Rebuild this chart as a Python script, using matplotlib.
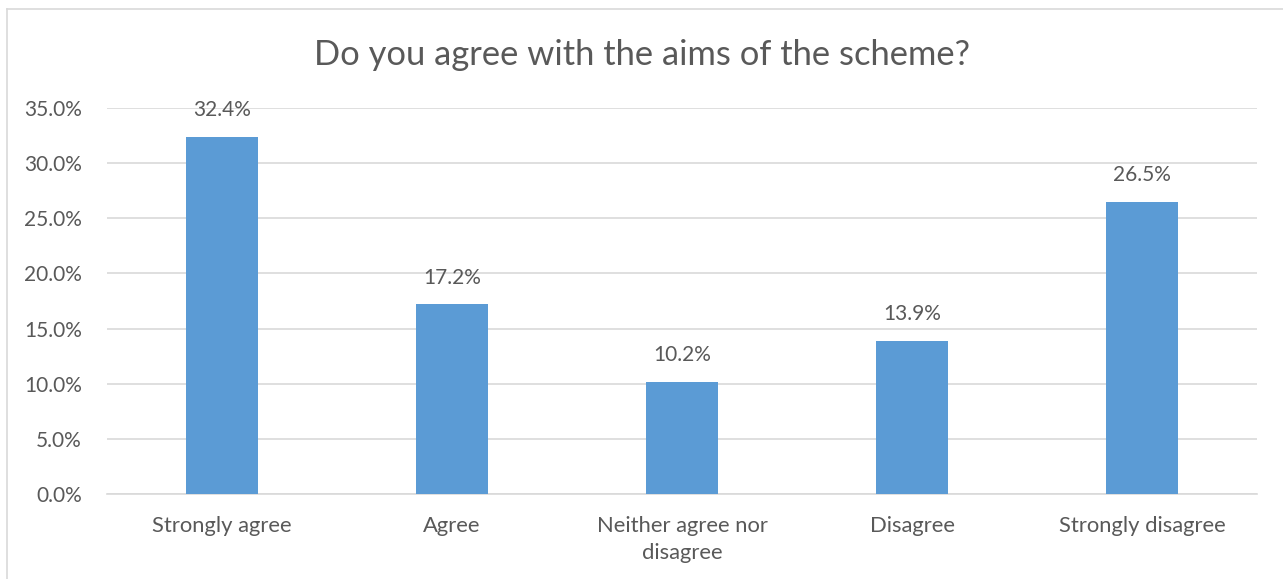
import matplotlib
matplotlib.use('Agg')
import matplotlib.pyplot as plt
from matplotlib.ticker import PercentFormatter, MultipleLocator

categories = ['Strongly agree', 'Agree', 'Neither agree nor\ndisagree', 'Disagree', 'Strongly disagree']
shares = [0.324, 0.172, 0.102, 0.139, 0.265]
bar_labels = ['32.4%', '17.2%', '10.2%', '13.9%', '26.5%']

plt.rcParams['font.family'] = ['Lato', 'DejaVu Sans']
text_color = '#595959'
grid_color = '#D9D9D9'


def main():
    fig = plt.figure(figsize=(12.83, 5.79), dpi=100)
    ax = fig.add_axes([107 / 1283, 1 - 494 / 579, 1150 / 1283, 386 / 579])

    x = range(len(categories))
    bars = ax.bar(x, shares, width=0.31, color='#5B9BD5', zorder=3)
    for bar, label in zip(bars, bar_labels):
        ax.annotate(label, (bar.get_x() + bar.get_width() / 2, bar.get_height()),
                    xytext=(0, 12), textcoords='offset points', ha='center', va='bottom',
                    fontsize=15, color=text_color)

    ax.set_xlim(-0.5, len(categories) - 0.5)
    ax.set_ylim(0, 0.35)
    ax.yaxis.set_major_locator(MultipleLocator(0.05))
    ax.yaxis.set_major_formatter(PercentFormatter(1, 1))
    ax.set_xticks(list(x))
    ax.set_xticklabels(categories, linespacing=1.4)
    ax.tick_params(axis='both', length=0, labelsize=15, labelcolor=text_color)
    ax.tick_params(axis='x', labelsize=15.8, pad=16)
    ax.tick_params(axis='y', pad=18)
    ax.grid(axis='y', color=grid_color, linewidth=1.2, zorder=0)
    for side in ('top', 'right', 'left'):
        ax.spines[side].set_visible(False)
    ax.spines['bottom'].set_color(grid_color)
    ax.spines['bottom'].set_linewidth(1.2)

    fig.text(0.5, 1 - 55 / 579, 'Do you agree with the aims of the scheme?', ha='center', va='center',
             fontsize=24.8, color=text_color)

    # chart frame, only the left and top edges fall inside the image
    fig.add_artist(plt.Line2D([7 / 1283, 7 / 1283], [0, 1 - 9 / 579], color=grid_color, linewidth=1.2))
    fig.add_artist(plt.Line2D([7 / 1283, 1], [1 - 9 / 579, 1 - 9 / 579], color=grid_color, linewidth=1.2))

    fig.savefig('out.png', dpi=100)


if __name__ == '__main__':
    main()
